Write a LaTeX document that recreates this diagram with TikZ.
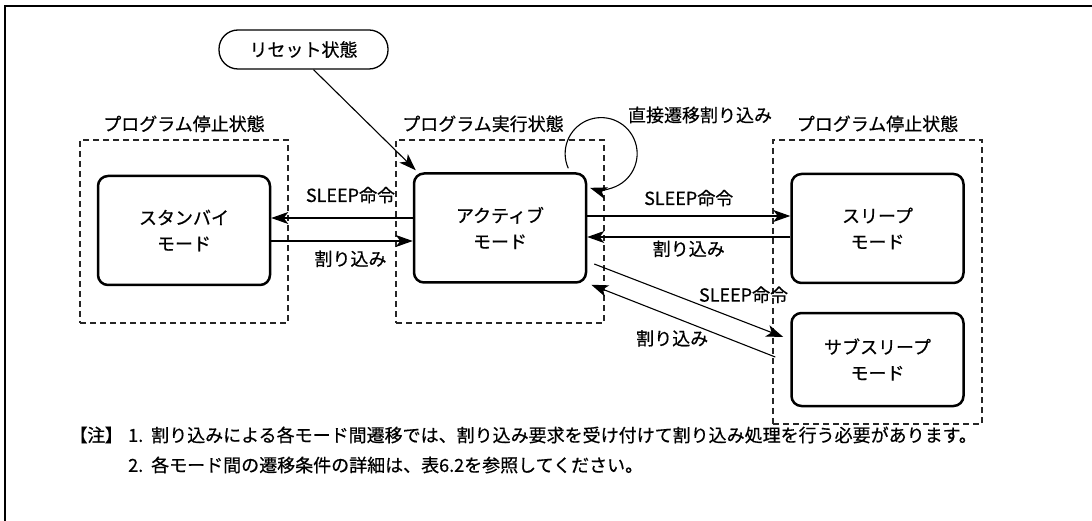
\documentclass[tikz,border=0pt]{standalone}
\usepackage{fontspec}
\setmainfont{Noto Sans CJK JP}[FakeBold=0.6]
\usetikzlibrary{positioning, arrows.meta, calc}
\tikzset{
    modebox/.style={
        draw, line width=2.5pt, rounded corners=10pt, fill=white,
        minimum width=172pt, minimum height=109pt, align=center,
        font=\fontsize{18}{26}\selectfont
    },
    groupbox/.style={
        draw=black!85, line width=1.3pt, dash pattern=on 6pt off 4pt
    },
    grouplabel/.style={
        inner sep=0pt, font=\fontsize{18}{22}\selectfont
    },
    ptr/.style={
        -{Stealth[length=17pt, width=12pt, inset=4.5pt]}, line width=1.1pt
    },
    labelptr/.style={
        inner sep=0pt, font=\fontsize{18}{22}\selectfont
    },
    notetext/.style={
        inner sep=0pt, anchor=west, font=\fontsize{18}{22}\selectfont
    }
}

\begin{document}
\begin{tikzpicture}[x=1pt, y=-1pt]
    \useasboundingbox (0,0) rectangle (1092,521);

    % outer frame
    \draw[line width=2pt] (1092,6) -- (5,6) -- (5,521);

    % ======================================
    % state groups
    % ======================================
    \node[groupbox, minimum width=208pt, minimum height=183pt] (stopL) at (184,231.5) {};
    \node[groupbox, minimum width=208pt, minimum height=183pt] (run) at (500,231.5) {};
    \node[groupbox, minimum width=209pt, minimum height=284pt] (stopR) at (877.5,282) {};

    \node[grouplabel, above=7pt of stopL.north] {プログラム停止状態};
    \node[grouplabel, above=7pt of run.north, xshift=-17pt] {プログラム実行状態};
    \node[grouplabel, above=7pt of stopR.north] {プログラム停止状態};

    % ======================================
    % modes
    % ======================================
    \node[modebox] (standby) at (184,230.5) {スタンバイ\\モード};
    \node[modebox] (active) at (500,228) {アクティブ\\モード};
    \node[modebox] (sleep) at (877.5,228.5) {スリープ\\モード};
    \node[modebox, minimum height=93pt] (subsleep) at (877.5,359.5) {サブスリープ\\モード};

    % reset
    \node[draw, line width=1.3pt, rounded corners=19pt, minimum width=169pt, minimum height=39pt,
          font=\fontsize{18}{22}\selectfont] (reset) at (303.5,49.5) {リセット状態};
    \draw[ptr] ([xshift=10pt]reset.south) -- ([xshift=3pt,yshift=2pt]active.north west);

    % active <-> standby
    \draw[ptr] ([yshift=10pt]active.west) -- ([yshift=10pt]active.west -| standby.east)
        node[labelptr, pos=0.44, above=14pt] {SLEEP命令};
    \draw[ptr] ([yshift=-13pt]active.west -| standby.east) -- ([yshift=-13pt]active.west)
        node[labelptr, pos=0.56, below=9pt] {割り込み};

    % active <-> sleep
    \draw[ptr] ([yshift=12pt]active.east) -- ([yshift=12pt]active.east -| sleep.west)
        node[labelptr, midway, above=9pt] {SLEEP命令};
    \draw[ptr] ([yshift=-9pt]active.east -| sleep.west) -- ([yshift=-9pt]active.east)
        node[labelptr, midway, below=3pt] {割り込み};

    % active <-> subsleep
    \draw[ptr] ([xshift=7pt,yshift=-36pt]active.east) -- ([xshift=-7pt,yshift=22.5pt]subsleep.west)
        node[labelptr, pos=0.79, above=18pt] {SLEEP命令};
    \draw[ptr] ([xshift=-15pt,yshift=2.5pt]subsleep.west) -- ([xshift=4pt,yshift=-1pt]active.south east)
        node[labelptr, pos=0.56, below=13pt] {割り込み};

    % direct transition loop
    \draw[ptr] ([xshift=-19pt,yshift=4pt]active.north east)
        arc[start angle=204, end angle=-108, radius=36pt];
    \node[labelptr] (direct) at (700,115) {直接遷移割り込み};

    % notes
    \node[notetext] (notehead) at (78,435) {\addfontfeatures{RawFeature=+palt}【注】};
    \node[notetext] (note1) at (128,435) {1.\hspace{8pt}割り込みによる各モード間遷移では、割り込み要求を受け付けて割り込み処理を行う必要があります。};
    \node[notetext] (note2) at ([yshift=-30pt]note1.west) {2.\hspace{8pt}各モード間の遷移条件の詳細は、表6.2を参照してください。};

\end{tikzpicture}
\end{document}
